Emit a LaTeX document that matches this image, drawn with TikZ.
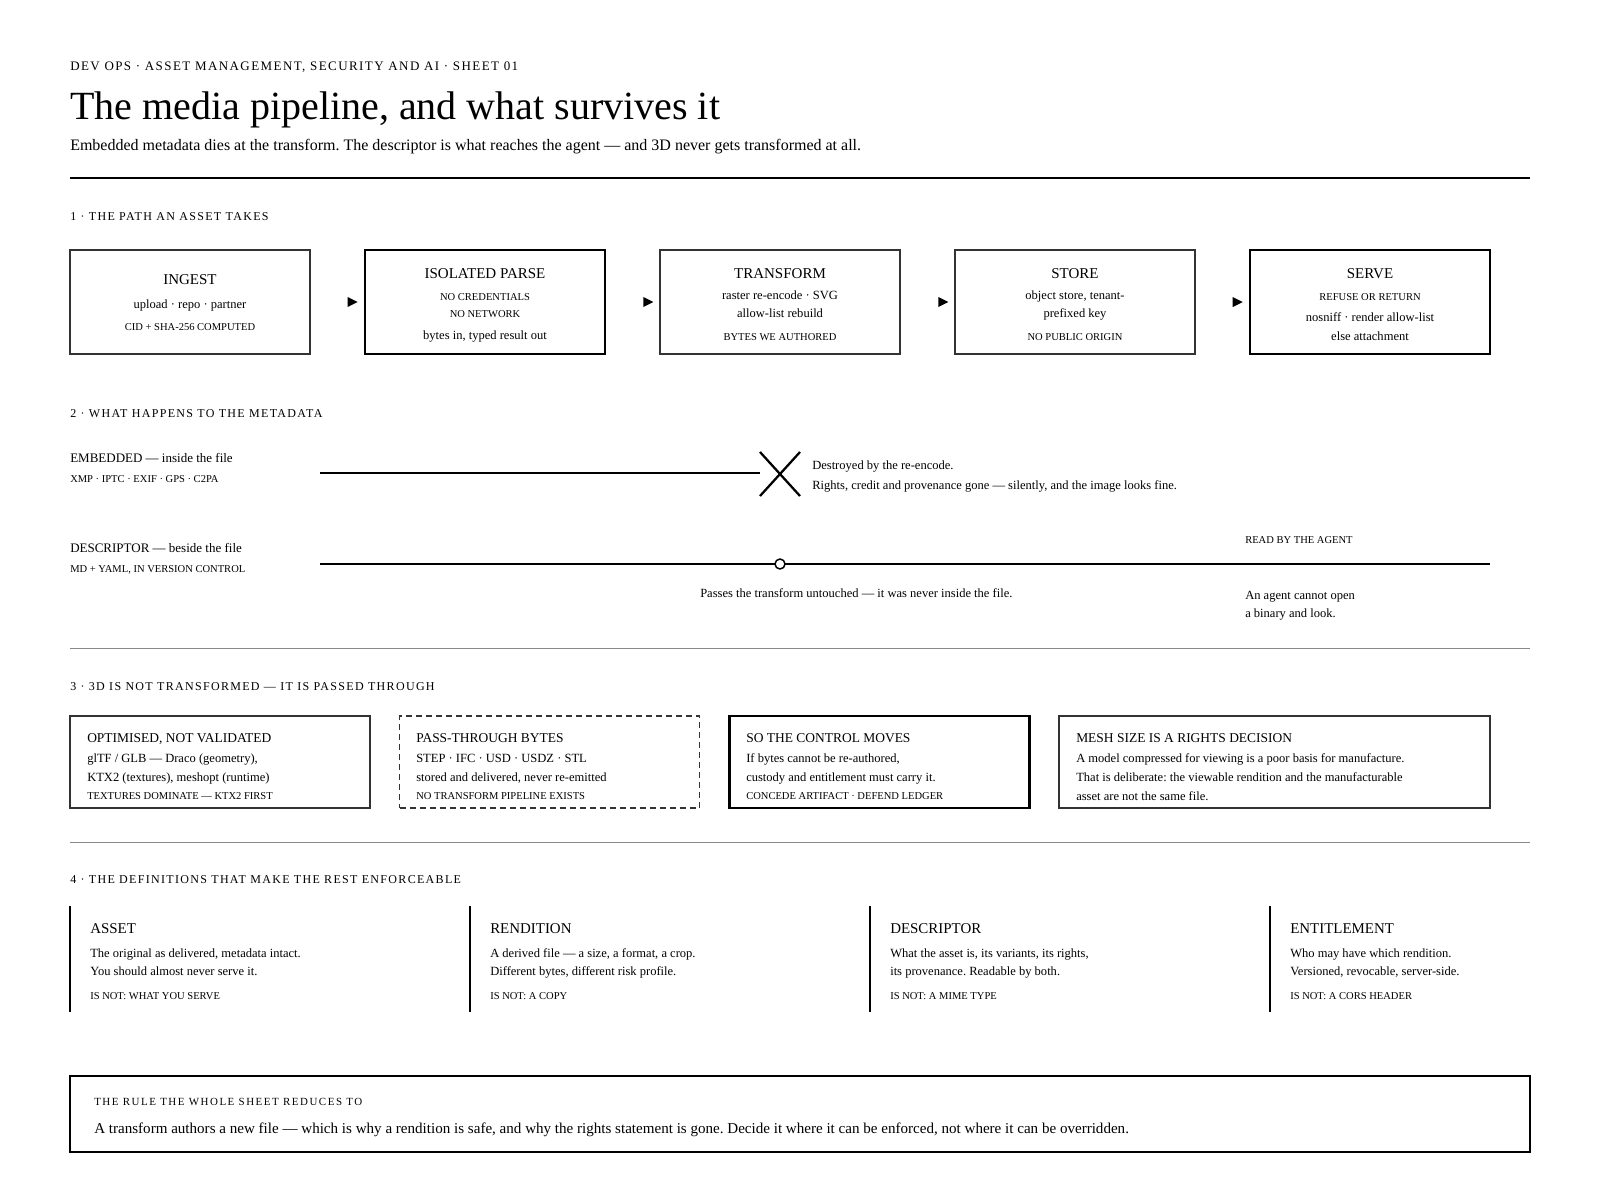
\documentclass[tikz,border=0pt]{standalone}
\usepackage{fontspec}
\setmainfont{Liberation Serif}
\newfontfamily\trackedfont[LetterSpace=11]{Liberation Serif}
\newfontfamily\widetrackedfont[LetterSpace=14]{Liberation Serif}
\usetikzlibrary{calc}
\frenchspacing

\definecolor{ink}{HTML}{333333}
\definecolor{rulegray}{HTML}{888888}

% font sizes (1px = 0.75pt)
\newcommand\kickerfont{\trackedfont\fontsize{9.75}{12}\selectfont}
\newcommand\sectionfont{\trackedfont\fontsize{9}{11}\selectfont}
\newcommand\titlefont{\fontsize{30}{34}\selectfont}
\newcommand\leadfont{\fontsize{12}{14}\selectfont}
\newcommand\stagefont{\fontsize{11.25}{13}\selectfont}
\newcommand\bodyfont{\fontsize{9.4}{11}\selectfont}
\newcommand\notefont{\fontsize{9.4}{11}\selectfont}
\newcommand\capsfont{\fontsize{7.9}{9}\selectfont}
\newcommand\labelfont{\fontsize{9.75}{12}\selectfont}
\newcommand\panelfont{\fontsize{10.1}{12}\selectfont}
\newcommand\termfont{\fontsize{11.2}{13}\selectfont}
\newcommand\rulefont{\fontsize{11.3}{13}\selectfont}

\begin{document}
\begin{tikzpicture}[x=0.75pt, y=-0.75pt,
  txt/.style={anchor=base west, inner sep=0},
  centred/.style={anchor=base, inner sep=0},
  stage/.style={draw=ink, line width=1.1pt, minimum width=180pt, minimum height=78pt, inner sep=0},
  strong/.style={draw=black, line width=1.9pt},
  panel/.style={draw=ink, line width=1.1pt, minimum width=225pt, minimum height=69pt, inner sep=0},
  rail/.style={line width=1.7pt},
  divider/.style={draw=rulegray, line width=0.75pt}]
  \useasboundingbox (0,0) rectangle (1600,1200);

  % header
  \node[txt, font=\kickerfont] (sheet) at (70,70) {DEV OPS · ASSET MANAGEMENT, SECURITY AND AI · SHEET 01};
  \node[txt, font=\titlefont] (title) at (70,119) {The media pipeline, and what survives it};
  \node[txt, font=\leadfont] (lead) at (70,150) {Embedded metadata dies at the transform. The descriptor is what reaches the agent — and 3D never gets transformed at all.};
  \draw[line width=1.5pt] (70,177.5) -- (1530,177.5);

  % 1 . the path
  \node[txt, font=\sectionfont] (sec1) at (70,220) {1 · THE PATH AN ASSET TAKES};
  \node[stage] (ingest) at (190,302) {};
  \node[stage, strong] (parse) at (485,302) {};
  \node[stage] (transform) at (780,302) {};
  \node[stage] (store) at (1075,302) {};
  \node[stage, strong] (serve) at (1370,302) {};
  \foreach \a/\b in {ingest/parse, parse/transform, transform/store, store/serve} {
    \fill ($(\b.west)+(-6,0)$) -- ++(-10,-5) -- ++(0,10) -- cycle;
  };
  \node[centred, font=\stagefont] (ingest-t) at (190,284) {INGEST};
  \node[centred, font=\bodyfont] (ingest-a) at (190,308) {upload · repo · partner};
  \node[centred, font=\capsfont] (ingest-b) at (190,330) {CID + SHA-256 COMPUTED};
  %
  \node[centred, font=\stagefont] (parse-t) at (485,278) {ISOLATED PARSE};
  \node[centred, font=\capsfont] (parse-a) at (485,300) {NO CREDENTIALS};
  \node[centred, font=\capsfont] (parse-b) at (485,317) {NO NETWORK};
  \node[centred, font=\bodyfont] (parse-c) at (485,339) {bytes in, typed result out};
  %
  \node[centred, font=\stagefont] (transform-t) at (780,278) {TRANSFORM};
  \node[centred, font=\bodyfont] (transform-a) at (780,299) {raster re-encode · SVG};
  \node[centred, font=\bodyfont] (transform-b) at (780,317.5) {allow-list rebuild};
  \node[centred, font=\capsfont] (transform-c) at (780,340) {BYTES WE AUTHORED};
  %
  \node[centred, font=\stagefont] (store-t) at (1075,278) {STORE};
  \node[centred, font=\bodyfont] (store-a) at (1075,299) {object store, tenant-};
  \node[centred, font=\bodyfont] (store-b) at (1075,317.5) {prefixed key};
  \node[centred, font=\capsfont] (store-c) at (1075,340) {NO PUBLIC ORIGIN};
  %
  \node[centred, font=\stagefont] (serve-t) at (1370,278) {SERVE};
  \node[centred, font=\capsfont] (serve-a) at (1370,300) {REFUSE OR RETURN};
  \node[centred, font=\bodyfont] (serve-b) at (1370,321.5) {nosniff · render allow-list};
  \node[centred, font=\bodyfont] (serve-c) at (1370,340) {else attachment};

  % 2 . metadata
  \node[txt, font=\sectionfont] (sec2) at (70,417) {2 · WHAT HAPPENS TO THE METADATA};
  \node[txt, font=\labelfont] (embedded) at (70,462) {EMBEDDED — inside the file};
  \node[txt, font=\capsfont] (embedded-s) at (70,482) {XMP · IPTC · EXIF · GPS · C2PA};
  \coordinate (emb-start) at (320,473);
  \coordinate (cross) at (780,474);
  \draw[rail] (emb-start) -- ($(cross)+(-20,-1)$);
  \draw[rail] ($(cross)+(-20,-22)$) -- ($(cross)+(20,22)$);
  \draw[rail] ($(cross)+(20,-22)$) -- ($(cross)+(-20,22)$);
  \node[txt, font=\notefont] (destroyed) at (812,469) {Destroyed by the re-encode.};
  \node[txt, font=\notefont] (gone) at (812,489) {Rights, credit and provenance gone — silently, and the image looks fine.};
  %
  \node[txt, font=\labelfont] (descriptor) at (70,552) {DESCRIPTOR — beside the file};
  \node[txt, font=\capsfont] (descriptor-s) at (70,572) {MD + YAML, IN VERSION CONTROL};
  \coordinate (desc-start) at (320,564);
  \coordinate (desc-end) at (1490,564);
  \draw[rail] (desc-start) -- (desc-end);
  \node[circle, draw, fill=white, line width=1.1pt, minimum size=7.5pt, inner sep=0] (untouched) at (780,564) {};
  \node[txt, font=\notefont] (passes) at (700,597) {Passes the transform untouched — it was never inside the file.};
  \node[txt, font=\capsfont] (agent) at (1245,543) {READ BY THE AGENT};
  \node[txt, font=\notefont] (agent-a) at (1245,599) {An agent cannot open};
  \node[txt, font=\notefont] (agent-b) at (1245,617) {a binary and look.};
  \draw[divider] (70,648) -- (1530,648);

  % 3 . 3d
  \node[txt, font=\sectionfont] (sec3) at (70,690) {3 · 3D IS NOT TRANSFORMED — IT IS PASSED THROUGH};
  \node[panel] (optimised) at (220,762) {};
  \node[panel, dash pattern=on 4.5pt off 3pt] (passthrough) at (549.5,762) {};
  \node[panel, strong] (control) at (879.5,762) {};
  \node[panel, minimum width=323.25pt] (mesh) at (1274.5,762) {};
  \node[txt, font=\panelfont] (optimised-t) at (87,742) {OPTIMISED, NOT VALIDATED};
  \node[txt, font=\notefont] (optimised-a) at (87,762) {glTF / GLB — Draco (geometry),};
  \node[txt, font=\notefont] (optimised-b) at (87,781) {KTX2 (textures), meshopt (runtime)};
  \node[txt, font=\capsfont] (optimised-c) at (87,799) {TEXTURES DOMINATE — KTX2 FIRST};
  %
  \node[txt, font=\panelfont] (passthrough-t) at (416,742) {PASS-THROUGH BYTES};
  \node[txt, font=\notefont] (passthrough-a) at (416,762) {STEP · IFC · USD · USDZ · STL};
  \node[txt, font=\notefont] (passthrough-b) at (416,781) {stored and delivered, never re-emitted};
  \node[txt, font=\capsfont] (passthrough-c) at (416,799) {NO TRANSFORM PIPELINE EXISTS};
  %
  \node[txt, font=\panelfont] (control-t) at (746,742) {SO THE CONTROL MOVES};
  \node[txt, font=\notefont] (control-a) at (746,762) {If bytes cannot be re-authored,};
  \node[txt, font=\notefont] (control-b) at (746,781) {custody and entitlement must carry it.};
  \node[txt, font=\capsfont] (control-c) at (746,799) {CONCEDE ARTIFACT · DEFEND LEDGER};
  %
  \node[txt, font=\panelfont] (mesh-t) at (1076,742) {MESH SIZE IS A RIGHTS DECISION};
  \node[txt, font=\notefont] (mesh-a) at (1076,762) {A model compressed for viewing is a poor basis for manufacture.};
  \node[txt, font=\notefont] (mesh-b) at (1076,781) {That is deliberate: the viewable rendition and the manufacturable};
  \node[txt, font=\notefont] (mesh-c) at (1076,800) {asset are not the same file.};
  \draw[divider] (70,842) -- (1530,842);

  % 4 . definitions
  \node[txt, font=\sectionfont] (sec4) at (70,883) {4 · THE DEFINITIONS THAT MAKE THE REST ENFORCEABLE};
  \foreach \name/\x/\term/\one/\two/\isnot in {
      asset/70/ASSET/{The original as delivered, metadata intact.}/{You should almost never serve it.}/{IS NOT: WHAT YOU SERVE},
      rendition/470/RENDITION/{A derived file — a size, a format, a crop.}/{Different bytes, different risk profile.}/{IS NOT: A COPY},
      descr/870/DESCRIPTOR/{What the asset is, its variants, its rights,}/{its provenance. Readable by both.}/{IS NOT: A MIME TYPE},
      entitlement/1270/ENTITLEMENT/{Who may have which rendition.}/{Versioned, revocable, server-side.}/{IS NOT: A CORS HEADER}} {
    \draw[line width=1.9pt] (\x,906) -- (\x,1012);
    \node[txt, font=\termfont] (\name-t) at (\x+20,933) {\term};
    \node[txt, font=\notefont] (\name-a) at (\x+20,957) {\one};
    \node[txt, font=\notefont] (\name-b) at (\x+20,975) {\two};
    \node[txt, font=\capsfont] (\name-c) at (\x+20,999) {\isnot};
  };

  % the rule
  \node[draw=black, line width=1.9pt, minimum width=1095pt, minimum height=57pt, inner sep=0] (rule) at (800,1114) {};
  \node[txt, font={\widetrackedfont\fontsize{8.2}{10}\selectfont}] (rule-t) at (94,1105) {THE RULE THE WHOLE SHEET REDUCES TO};
  \node[txt, font=\rulefont] (rule-a) at (94,1133) {A transform authors a new file — which is why a rendition is safe, and why the rights statement is gone. Decide it where it can be enforced, not where it can be overridden.};

\end{tikzpicture}
\end{document}
